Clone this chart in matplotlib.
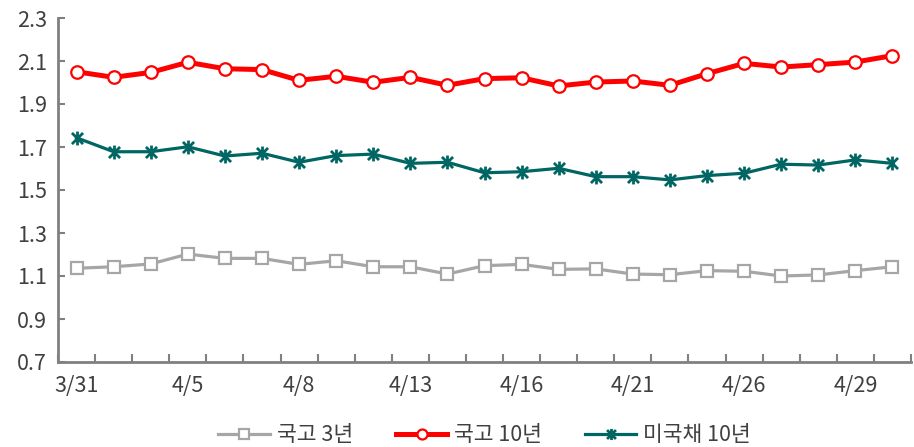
"""
국고채 / 미국채 금리 추이 (3/31 ~ 4/30)
"""

import numpy as np
import matplotlib
matplotlib.use('Agg')
import matplotlib.pyplot as plt
from matplotlib.path import Path
from matplotlib.ticker import FixedLocator, NullFormatter

plt.rcParams['font.family'] = ['Noto Sans CJK KR', 'DejaVu Sans']

dates = ['3/31', '4/1', '4/2', '4/5', '4/6', '4/7', '4/8', '4/9', '4/12', '4/13',
         '4/14', '4/15', '4/16', '4/19', '4/20', '4/21', '4/22', '4/23', '4/26',
         '4/27', '4/28', '4/29', '4/30']

ktb3 = [1.136, 1.143, 1.156, 1.202, 1.182, 1.182, 1.154, 1.171, 1.143, 1.143,
        1.109, 1.148, 1.154, 1.131, 1.133, 1.109, 1.106, 1.125, 1.122, 1.100,
        1.105, 1.125, 1.143]
ktb10 = [2.050, 2.024, 2.047, 2.094, 2.064, 2.060, 2.010, 2.029, 2.001, 2.024,
         1.987, 2.018, 2.022, 1.984, 2.002, 2.007, 1.987, 2.041, 2.089, 2.072,
         2.083, 2.095, 2.125]
ust10 = [1.743, 1.678, 1.678, 1.701, 1.658, 1.671, 1.629, 1.660, 1.667, 1.624,
         1.629, 1.580, 1.585, 1.601, 1.562, 1.562, 1.547, 1.567, 1.578, 1.620,
         1.616, 1.640, 1.624]

names = ['국고 3년', '국고 10년', '미국채 10년']
yticks = [0.7, 0.9, 1.1, 1.3, 1.5, 1.7, 1.9, 2.1, 2.3]

# excel-style star marker: x with a vertical stroke
star = Path([(-1, -1), (1, 1), (-1, 1), (1, -1), (0, -1.25), (0, 1.25)],
            [Path.MOVETO, Path.LINETO, Path.MOVETO, Path.LINETO, Path.MOVETO, Path.LINETO])

x = np.arange(len(dates))

fig = plt.figure(figsize=(9.14, 4.47), dpi=100)
ax = fig.add_axes([58/914, 85/447, 853/914, 344/447])

ax.plot(x, ktb3, color='#A6A6A6', lw=2.3, marker='s', ms=8.5, mfc='white',
        mec='#A6A6A6', mew=1.6, label=names[0], zorder=3)
ax.plot(x, ktb10, color='#FF0000', lw=3.6, marker='o', ms=9, mfc='white',
        mec='#FF0000', mew=1.6, label=names[1], zorder=4)
ax.plot(x, ust10, color='#006663', lw=2.3, marker=star, ms=10, mfc='none',
        mec='#006663', mew=2.0, label=names[2], zorder=3)

ax.set_xlim(-0.5, len(dates) - 0.5)
ax.set_ylim(0.7, 2.3)
ax.set_yticks(yticks)
ax.set_yticklabels([f'{v:.1f}' for v in yticks])

# labels every third day, tick marks on category boundaries
ax.set_xticks(x[::3])
ax.set_xticklabels(dates[::3])
ax.tick_params(axis='x', which='major', length=0, pad=9)
ax.xaxis.set_minor_locator(FixedLocator(np.arange(-0.5, len(dates), 1.0)))
ax.xaxis.set_minor_formatter(NullFormatter())
ax.tick_params(axis='x', which='minor', direction='in', length=6, width=1.5, color='#808080')
ax.tick_params(axis='y', direction='in', length=5, width=1.5, color='#808080', pad=8)
ax.tick_params(labelsize=15.5, labelcolor='#404040')

for s in ['top', 'right']:
    ax.spines[s].set_visible(False)
for s in ['left', 'bottom']:
    ax.spines[s].set_color('#808080')
    ax.spines[s].set_linewidth(2)

ax.legend(loc='upper center', bbox_to_anchor=(0.5, -0.125), ncol=3, frameon=False,
          fontsize=15.5, markerscale=0.8, handlelength=2.4, handletextpad=0.3,
          columnspacing=2.0, labelcolor='#404040')

fig.savefig('out.png', dpi=100)
